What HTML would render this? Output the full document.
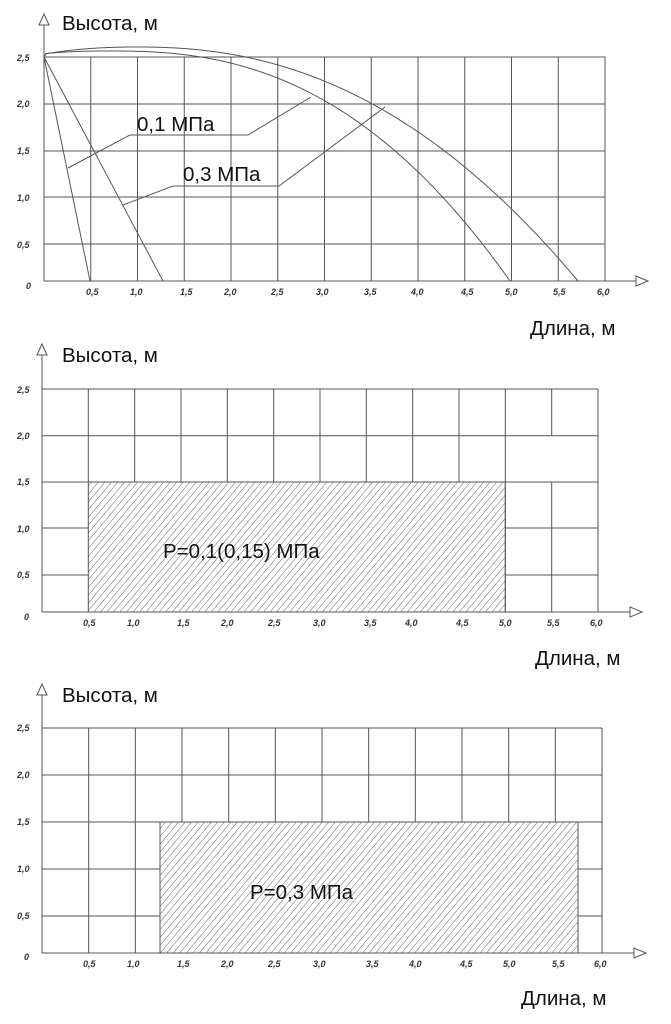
<!DOCTYPE html>
<html><head><meta charset="utf-8"><style>
body{margin:0;background:#fff}
svg{display:block}
.t{font-family:"Liberation Sans",sans-serif;font-size:9px;font-style:italic;font-weight:bold;fill:#333}
.L{font-family:"Liberation Sans",sans-serif;font-size:20.5px;fill:#111}
.g{stroke:#555;stroke-width:1;fill:none}
</style></head><body>
<svg width="671" height="1024" viewBox="0 0 671 1024">
<defs>
<pattern id="h" width="5" height="5" patternUnits="userSpaceOnUse" patternTransform="rotate(40)">
<line x1="0" y1="0" x2="0" y2="5" stroke="#666" stroke-width="1"/>
</pattern>
</defs>

<!-- ===== Chart 1 ===== -->
<g class="g">
<path d="M44,57H605M44,104H605M44,151H605M44,197H605M44,244H605"/>
<path d="M90.75,57V281M137.5,57V281M184.25,57V281M231,57V281M277.75,57V281M324.5,57V281M371.25,57V281M418,57V281M464.75,57V281M511.5,57V281M558.25,57V281M605,57V281"/>
<path d="M44,281V22M44,281H636"/>
<path d="M39,25L44,14L49,25Z" fill="#fff"/>
<path d="M636,276L648,281L636,286Z" fill="#fff"/>
<path d="M44,57L90,281M44,57L163,281"/>
<path id="c1" d=""/>
<path id="c2" d=""/>
<path d="M68,168L130,135H248L311,97"/>
<path d="M123,205L173,186H279L385,107"/>
</g>
<script>
function mk(id,x0,y0,cx,top,xe,p){var ry=281-top,rx=xe-cx,d='M'+x0+','+y0;
for(var x=x0+2;x<=xe;x+=2){var t=Math.abs(x-cx)/rx;var y=top+ry*Math.pow(t,p);d+='L'+x+','+y.toFixed(2);}
d+='L'+xe+',281';document.getElementById(id).setAttribute('d',d);}
mk('c1',44,57,137,47,578,2.25);
mk('c2',44,57,110,51,510,2.46);
</script>
<text class="L" x="62" y="30">Высота, м</text>
<text class="L" x="137" y="131">0,1 МПа</text>
<text class="L" x="183" y="181">0,3 МПа</text>
<text class="L" x="530" y="335">Длина, м</text>
<g class="t">
<text x="17" y="61">2,5</text><text x="17" y="107">2,0</text><text x="17" y="154">1,5</text><text x="17" y="201">1,0</text><text x="17" y="248">0,5</text><text x="26" y="289">0</text>
<text x="86" y="295">0,5</text><text x="130" y="295">1,0</text><text x="180" y="295">1,5</text><text x="224" y="295">2,0</text><text x="271" y="295">2,5</text><text x="316" y="295">3,0</text><text x="364" y="295">3,5</text><text x="411" y="295">4,0</text><text x="461" y="295">4,5</text><text x="505" y="295">5,0</text><text x="553" y="295">5,5</text><text x="597" y="295">6,0</text>
</g>

<!-- ===== Chart 2 ===== -->
<rect x="88.3" y="482" width="417" height="130" fill="url(#h)" stroke="#555"/>
<g class="g">
<path d="M42,389H598M42,435.7H598M42,482H598"/>
<path d="M88.3,389V482M134.7,389V482M181,389V482M227.3,389V482M273.7,389V482M320,389V482M366.3,389V482M412.7,389V482M459,389V482M505.3,389V612M551.7,389V435.7M551.7,482V612M598,389V612"/>
<path d="M42,528H88.3M42,575H88.3M505.3,528H598M505.3,575H598"/>
<path d="M42,612V352M42,612H630"/>
<path d="M37,355L42,344L47,355Z" fill="#fff"/>
<path d="M630,607L642,612L630,617Z" fill="#fff"/>
</g>
<text class="L" x="62" y="362">Высота, м</text>
<text class="L" x="163" y="558">P=0,1(0,15) МПа</text>
<text class="L" x="535" y="665">Длина, м</text>
<g class="t">
<text x="17" y="393">2,5</text><text x="17" y="439">2,0</text><text x="17" y="485">1,5</text><text x="17" y="532">1,0</text><text x="17" y="578">0,5</text><text x="24" y="620">0</text>
<text x="83" y="626">0,5</text><text x="127" y="626">1,0</text><text x="177" y="626">1,5</text><text x="221" y="626">2,0</text><text x="268" y="626">2,5</text><text x="313" y="626">3,0</text><text x="364" y="626">3,5</text><text x="405" y="626">4,0</text><text x="456" y="626">4,5</text><text x="499" y="626">5,0</text><text x="547" y="626">5,5</text><text x="590" y="626">6,0</text>
</g>

<!-- ===== Chart 3 ===== -->
<rect x="160" y="822" width="418" height="131" fill="url(#h)" stroke="#555"/>
<g class="g">
<path d="M42,728H602M42,775H602M42,822H602"/>
<path d="M88.7,728V953M135.3,728V953M182,728V822M228.7,728V822M275.3,728V822M322,728V822M368.7,728V822M415.3,728V822M462,728V822M508.7,728V822M555.3,728V822M602,728V953"/>
<path d="M42,869H160M42,916H160M578,869H602M578,916H602"/>
<path d="M42,953V692M42,953H634"/>
<path d="M37,695L42,684L47,695Z" fill="#fff"/>
<path d="M634,948L646,953L634,958Z" fill="#fff"/>
</g>
<text class="L" x="62" y="702">Высота, м</text>
<text class="L" x="250" y="899">P=0,3 МПа</text>
<text class="L" x="521" y="1005">Длина, м</text>
<g class="t">
<text x="17" y="731">2,5</text><text x="17" y="778">2,0</text><text x="17" y="825">1,5</text><text x="17" y="872">1,0</text><text x="17" y="919">0,5</text><text x="24" y="960">0</text>
<text x="83" y="967">0,5</text><text x="127" y="967">1,0</text><text x="177" y="967">1,5</text><text x="221" y="967">2,0</text><text x="268" y="967">2,5</text><text x="313" y="967">3,0</text><text x="366" y="967">3,5</text><text x="409" y="967">4,0</text><text x="460" y="967">4,5</text><text x="503" y="967">5,0</text><text x="552" y="967">5,5</text><text x="594" y="967">6,0</text>
</g>
</svg>
</body></html>
